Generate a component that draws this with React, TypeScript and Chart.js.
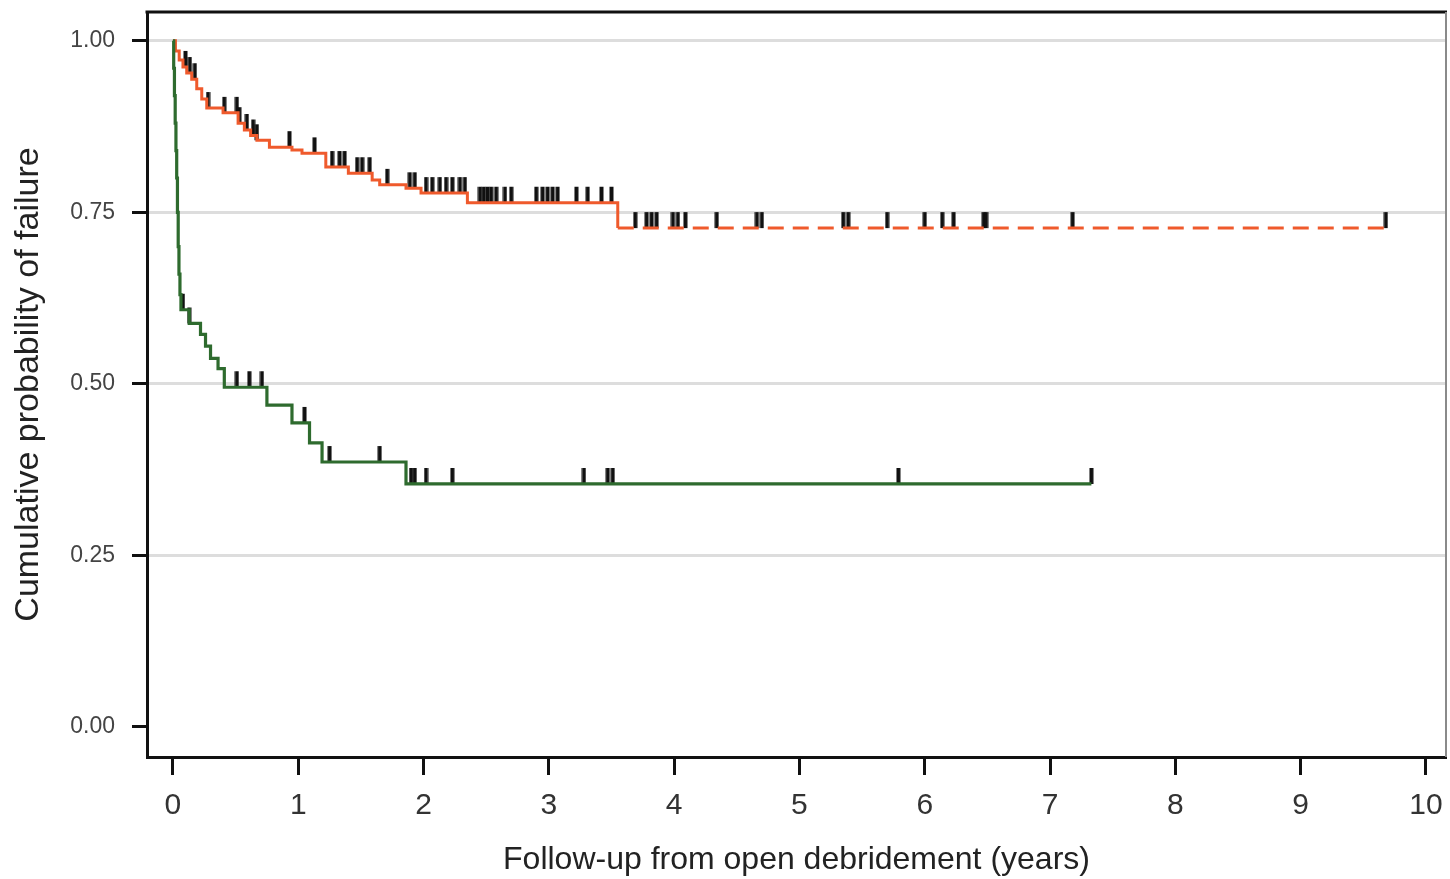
import React, { useEffect, useRef } from "react";
import { Chart, registerables } from "chart.js";

Chart.register(...registerables);

const FONT = "'Liberation Sans', Arial, Helvetica, sans-serif";

const xTickValues = [0, 1, 2, 3, 4, 5, 6, 7, 8, 9, 10];
const yTickValues = [0, 0.25, 0.5, 0.75, 1.0];

const xTitle = "Follow-up from open debridement (years)";
const yTitle = "Cumulative probability of failure";

// Orange group: step times and values after each step
const orangeTimes = [0, 0.02, 0.05, 0.08, 0.11, 0.15, 0.19, 0.23, 0.27, 0.4, 0.52, 0.57, 0.62, 0.67, 0.77, 0.95, 1.03, 1.22, 1.4, 1.59, 1.65, 1.86, 1.98, 2.35, 3.55, 9.68];
const orangeValues = [1.0, 0.985, 0.972, 0.962, 0.953, 0.944, 0.93, 0.915, 0.902, 0.895, 0.88, 0.87, 0.862, 0.855, 0.845, 0.841, 0.836, 0.816, 0.807, 0.797, 0.79, 0.785, 0.778, 0.764, 0.727, 0.727];
const orangeDashFrom = 3.55;
const orangeCensor = [
  0.1, 0.135, 0.175, 0.28, 0.41, 0.51, 0.53, 0.59, 0.64, 0.67, 0.93, 1.13, 1.27, 1.33, 1.37, 1.47, 1.51, 1.57, 1.71,
  1.89, 1.93, 2.02, 2.07, 2.13, 2.18, 2.23, 2.29, 2.33, 2.45, 2.48, 2.51, 2.54, 2.58, 2.65, 2.7,
  2.9, 2.95, 2.99, 3.03, 3.07, 3.22, 3.31, 3.42, 3.5,
  3.69, 3.78, 3.82, 3.86, 3.99, 4.03, 4.09, 4.34, 4.66, 4.7, 5.35, 5.39, 5.7, 6.0, 6.14, 6.23, 6.47, 6.49, 7.18, 9.68,
];

// Green group: step times and values after each step
const greenTimes = [0, 0.006, 0.012, 0.018, 0.024, 0.03, 0.036, 0.042, 0.048, 0.056, 0.064, 0.13, 0.22, 0.26, 0.3, 0.36, 0.41, 0.75, 0.95, 1.09, 1.19, 1.86, 7.33];
const greenValues = [1.0, 0.96, 0.92, 0.88, 0.84, 0.8, 0.75, 0.7, 0.66, 0.63, 0.608, 0.588, 0.572, 0.555, 0.537, 0.522, 0.495, 0.469, 0.443, 0.414, 0.386, 0.354, 0.354];
const greenCensor = [0.08, 0.13, 0.51, 0.61, 0.71, 1.05, 1.25, 1.65, 1.9, 1.93, 2.02, 2.23, 3.28, 3.47, 3.51, 5.79, 7.33];

const ORANGE = "#ef5a2c";
const GREEN = "#2e6b2e";

function stepValue(times: number[], values: number[], t: number): number {
  let v = values[0];
  for (let i = 0; i < times.length; i++) {
    if (times[i] <= t) v = values[i];
  }
  return v;
}

function makeCensorMark(): HTMLCanvasElement {
  const c = document.createElement("canvas");
  c.width = 5;
  c.height = 34;
  const g = c.getContext("2d")!;
  g.fillStyle = "#111";
  g.fillRect(0.5, 1, 4, 16);
  return c;
}

const framePlugin = {
  id: "frame",
  afterDraw(chart: any) {
    const { ctx, chartArea } = chart;
    ctx.save();
    ctx.strokeStyle = "#111";
    ctx.lineWidth = 3;
    ctx.beginPath();
    ctx.moveTo(chartArea.left - 1.5, chartArea.top);
    ctx.lineTo(chartArea.right + 1, chartArea.top);
    ctx.stroke();
    ctx.strokeStyle = "#8a8a8a";
    ctx.lineWidth = 2;
    ctx.beginPath();
    ctx.moveTo(chartArea.right, chartArea.top);
    ctx.lineTo(chartArea.right, chartArea.bottom);
    ctx.stroke();
    ctx.restore();
  },
};

function zeroPadding(s: any) {
  s.paddingTop = 0;
  s.paddingBottom = 0;
  s.paddingLeft = 0;
  s.paddingRight = 0;
}

export default function App() {
  const ref = useRef<HTMLCanvasElement | null>(null);

  useEffect(() => {
    if (!ref.current) return;
    const mark = makeCensorMark();
    const chart = new Chart(ref.current, {
      type: "line",
      data: {
        datasets: [
          {
            label: "green",
            data: greenTimes.map((t, i) => ({ x: t, y: greenValues[i] })),
            borderColor: GREEN,
            borderWidth: 3.2,
            stepped: "before",
            pointRadius: 0,
            fill: false,
          },
          {
            label: "orange",
            data: orangeTimes.map((t, i) => ({ x: t, y: orangeValues[i] })),
            borderColor: ORANGE,
            borderWidth: 3,
            stepped: "before",
            pointRadius: 0,
            fill: false,
            segment: {
              borderDash: (ctx: any) => (ctx.p0.parsed.x >= orangeDashFrom ? [16, 9] : undefined),
            },
          },
          {
            label: "green censored",
            data: greenCensor.map((t) => ({ x: t, y: stepValue(greenTimes, greenValues, t) })),
            showLine: false,
            pointStyle: mark as any,
            pointRadius: 3,
            pointHoverRadius: 3,
          },
          {
            label: "orange censored",
            data: orangeCensor.map((t) => ({ x: t, y: stepValue(orangeTimes, orangeValues, t) })),
            showLine: false,
            pointStyle: mark as any,
            pointRadius: 3,
            pointHoverRadius: 3,
          },
        ],
      },
      options: {
        animation: false,
        responsive: false,
        maintainAspectRatio: false,
        events: [],
        layout: { padding: { top: 12, right: 2, left: 0, bottom: 0 } },
        plugins: {
          legend: { display: false },
          tooltip: { enabled: false },
        },
        scales: {
          x: {
            type: "linear",
            min: -0.207,
            max: 10.16,
            afterBuildTicks: (s: any) => {
              s.ticks = xTickValues.map((v) => ({ value: v }));
            },
            afterFit: (s: any) => {
              s.height = 122;
              zeroPadding(s);
            },
            grid: {
              drawOnChartArea: false,
              drawTicks: true,
              tickLength: 18,
              tickWidth: 3,
              tickColor: "#111",
            },
            border: { display: true, color: "#111", width: 3 },
            ticks: {
              autoSkip: false,
              maxRotation: 0,
              padding: 13,
              color: "#333",
              font: { family: FONT, size: 30 },
              callback: (v: any) => String(v),
            },
            title: {
              display: true,
              text: xTitle,
              color: "#222",
              font: { family: FONT, size: 32 },
              padding: { top: 0, bottom: 0 },
            },
          },
          y: {
            type: "linear",
            min: -0.044,
            max: 1.042,
            afterBuildTicks: (s: any) => {
              s.ticks = yTickValues.map((v) => ({ value: v }));
            },
            afterFit: (s: any) => {
              s.width = 147;
              zeroPadding(s);
            },
            grid: {
              color: (ctx: any) => (ctx.tick && ctx.tick.value === 0 ? "rgba(0,0,0,0)" : "#dddddd"),
              lineWidth: 3,
              drawTicks: true,
              tickLength: 15,
              tickWidth: 3,
              tickColor: "#111",
            },
            border: { display: true, color: "#111", width: 3 },
            ticks: {
              padding: 17,
              color: "#444",
              font: { family: FONT, size: 23 },
              callback: (v: any) => Number(v).toFixed(2),
            },
            title: {
              display: true,
              text: yTitle,
              color: "#222",
              font: { family: FONT, size: 34 },
              padding: { top: 8, bottom: 0 },
            },
          },
        },
      },
      plugins: [framePlugin],
    } as any);
    return () => chart.destroy();
  }, []);

  return (
    <div style={{ position: "fixed", left: 0, top: 0, width: 1450, height: 879, background: "#fff" }}>
      <canvas ref={ref} width={1450} height={879} style={{ width: 1450, height: 879, display: "block" }} />
    </div>
  );
}
